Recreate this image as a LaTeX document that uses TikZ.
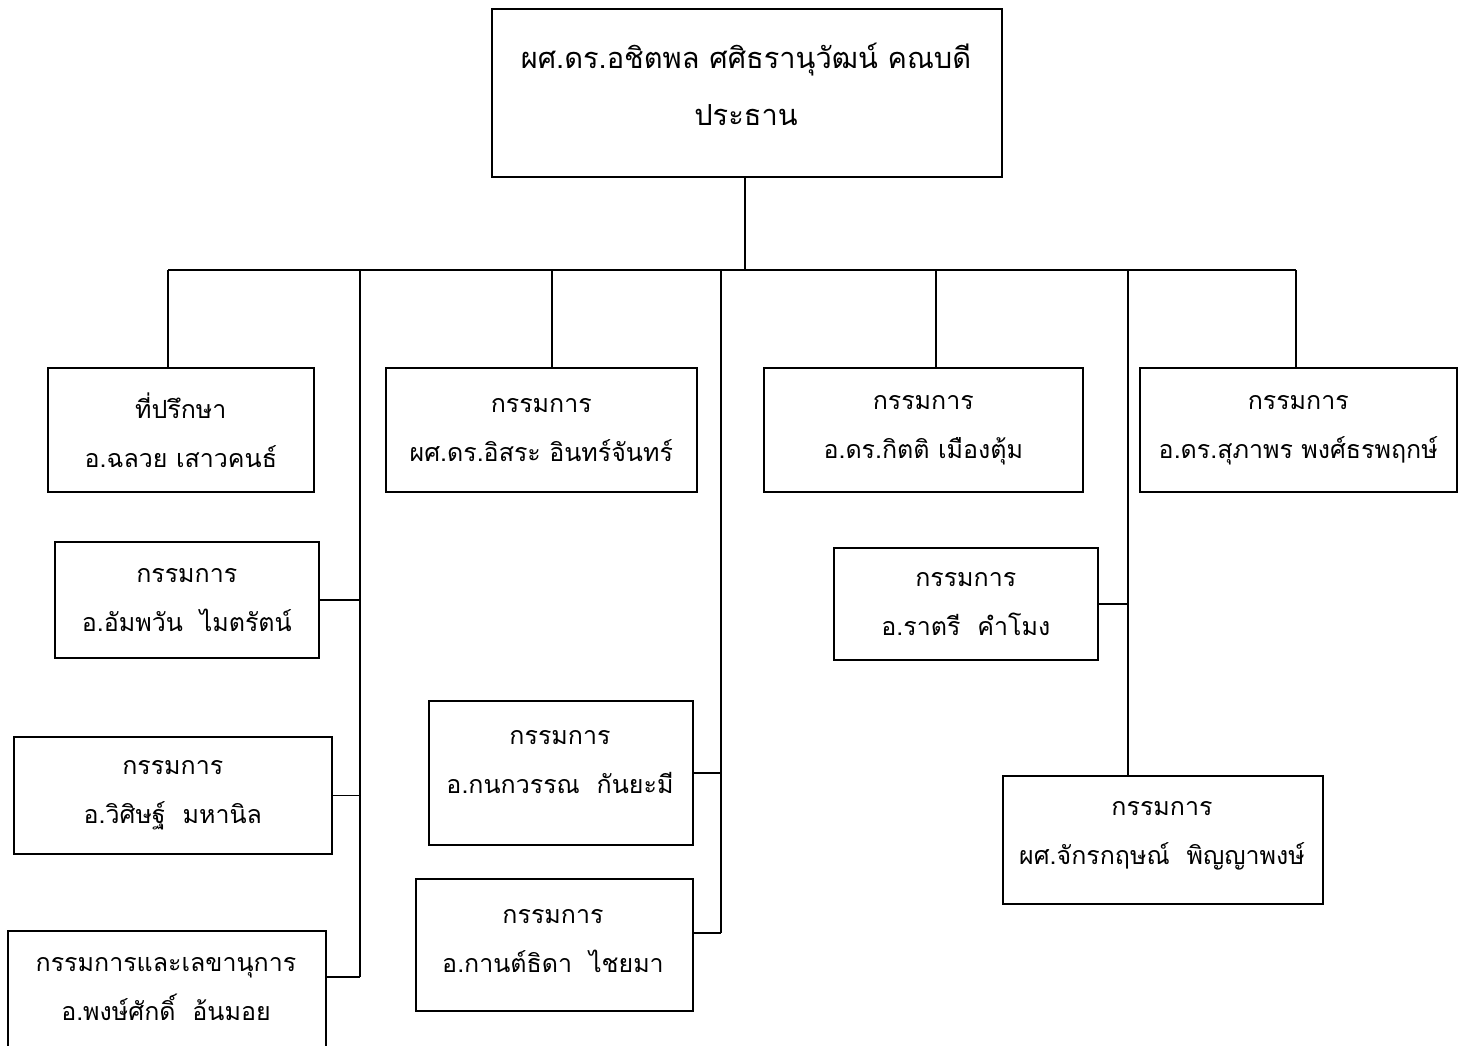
\documentclass[tikz,border=0pt]{standalone}
\usepackage{fontspec}
\newfontfamily\thaifont[Script=Thai]{Loma}
\begin{document}
\begin{tikzpicture}[x=1pt,y=-1pt,
  box/.style={draw=black, line width=1.6pt, inner sep=0pt, anchor=north west},
  txt/.style={align=center, inner sep=0pt, font=\thaifont\fontsize{25}{49}\selectfont},
  bigtxt/.style={align=center, inner sep=0pt, font=\thaifont\fontsize{29}{57}\selectfont},
  conn/.style={line width=1.6pt}]
\useasboundingbox (0,0) rectangle (1465,1046);
% boxes
\node[box, minimum width=510pt, minimum height=168pt] (top) at (491,8) {};
\node[box, minimum width=266pt, minimum height=124pt] (a) at (47,367) {};
\node[box, minimum width=311pt, minimum height=124pt] (b) at (385,367) {};
\node[box, minimum width=319pt, minimum height=124pt] (c) at (763,367) {};
\node[box, minimum width=317pt, minimum height=124pt] (d) at (1139,367) {};
\node[box, minimum width=264pt, minimum height=116pt] (l1) at (54,541) {};
\node[box, minimum width=318pt, minimum height=117pt] (l2) at (13,736) {};
\node[box, minimum width=318pt, minimum height=122pt] (l3) at (7,930) {};
\node[box, minimum width=264pt, minimum height=144pt] (m1) at (428,700) {};
\node[box, minimum width=277pt, minimum height=132pt] (m2) at (415,878) {};
\node[box, minimum width=264pt, minimum height=112pt] (r1) at (833,547) {};
\node[box, minimum width=320pt, minimum height=128pt] (r2) at (1002,775) {};
% texts
\node[bigtxt] (ttop) at (746,84) {ผศ.ดร.อชิตพล ศศิธรานุวัฒน์ คณบดี\\ประธาน};
\node[txt] (ta) at (a.center) {ที่ปรึกษา\\อ.ฉลวย เสาวคนธ์};
\node[txt] (tb) at (b.center) {กรรมการ\\ผศ.ดร.อิสระ อินทร์จันทร์};
\node[txt] (tc) at (c.center) {กรรมการ\\อ.ดร.กิตติ เมืองตุ้ม};
\node[txt] (td) at (d.center) {กรรมการ\\อ.ดร.สุภาพร พงศ์ธรพฤกษ์};
\node[txt] (tl1) at (l1.center) {กรรมการ\\อ.อัมพวัน\ \ ไมตรัตน์};
\node[txt] (tl2) at (l2.center) {กรรมการ\\อ.วิศิษฐ์\ \ มหานิล};
\node[txt] (tl3) at (166,989) {กรรมการและเลขานุการ\\อ.พงษ์ศักดิ์\ \ อ้นมอย};
\node[txt] (tm1) at (560,762) {กรรมการ\\อ.กนกวรรณ\ \ กันยะมี};
\node[txt] (tm2) at (553,941) {กรรมการ\\อ.กานต์ธิดา\ \ ไชยมา};
\node[txt] (tr1) at (r1.center) {กรรมการ\\อ.ราตรี\ \ คำโมง};
\node[txt] (tr2) at (1162,836) {กรรมการ\\ผศ.จักรกฤษณ์\ \ พิญญาพงษ์};
% bar coordinates
\coordinate (bar) at (745,270);
\coordinate (ja) at (168,270);
\coordinate (jl) at (360,270);
\coordinate (jb) at (552,270);
\coordinate (jm) at (721,270);
\coordinate (jc) at (936,270);
\coordinate (jr) at (1128,270);
\coordinate (jd) at (1296,270);
% connectors
\draw[conn] (top.south -| bar) -- (bar);
\draw[conn] (ja) -- (jd);
\draw[conn] (ja) -- (ja |- a.north);
\draw[conn] (jb) -- (jb |- b.north);
\draw[conn] (jc) -- (jc |- c.north);
\draw[conn] (jd) -- (jd |- d.north);
\draw[conn] (jl) -- (jl |- l3.north east) -- ++(0,47) coordinate (l3end);
\draw[conn] (l1.east) -- (l1.east -| jl);
\draw[conn] (l2.east) -- (l2.east -| jl);
\draw[conn] (l3end -| l3.east) -- (l3end);
\draw[conn] (jm) -- (jm |- m2.north) -- ++(0,55) coordinate (m2end);
\draw[conn] (m1.east) -- (m1.east -| jm);
\draw[conn] (m2end -| m2.east) -- (m2end);
\draw[conn] (jr) -- (jr |- r2.north);
\draw[conn] (r1.east) -- (r1.east -| jr);
\end{tikzpicture}
\end{document}
